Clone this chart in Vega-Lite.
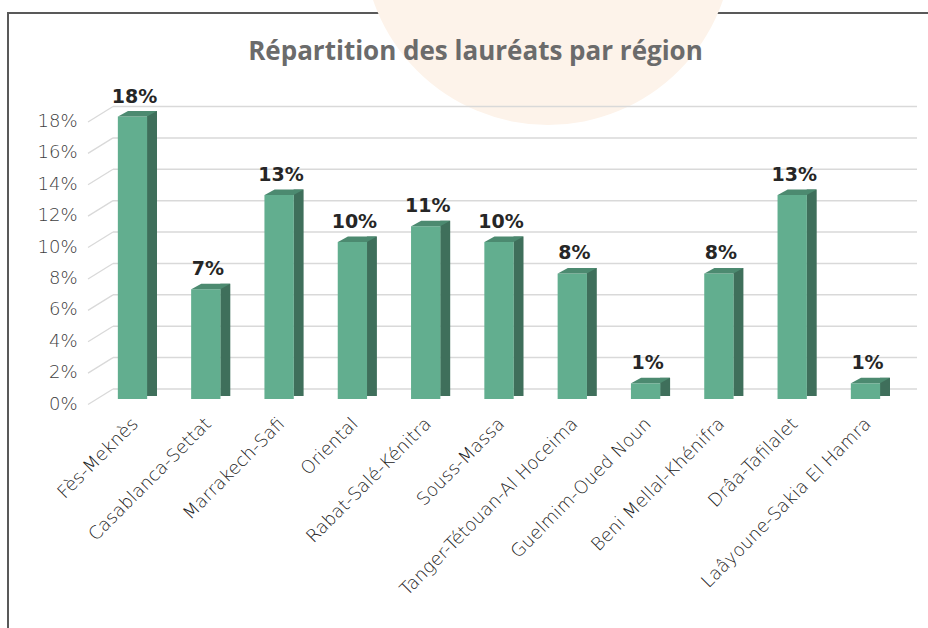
{
  "$schema": "https://vega.github.io/schema/vega-lite/v6.json",
  "autosize": {"type": "none"},
  "padding": {"left": 8, "top": 13, "right": -5, "bottom": -5},
  "width": 925,
  "height": 620,
  "background": "white",
  "config": {
    "view": {"stroke": "#595959", "strokeWidth": 2},
    "axisX": {"domain": false, "ticks": false, "grid": false, "offset": -228, "labelAngle": -45, "labelAlign": "right", "labelBaseline": "middle", "labelPadding": 16, "labelOffset": 3, "labelFont": "DejaVu Sans", "labelFontWeight": 200, "labelFontSize": 18, "labelColor": "#222222", "labelLimit": 400},
    "axisY": {"domain": false, "ticks": false, "grid": false, "offset": -75, "labelPadding": 6, "labelOffset": 5, "labelFont": "DejaVu Sans", "labelFontWeight": 200, "labelFontSize": 18, "labelColor": "#404040", "format": ".0%"}
  },
  "title": {
    "text": "Répartition des lauréats par région",
    "font": "Open Sans",
    "fontWeight": "bold",
    "fontSize": 26,
    "color": "#6b6b6b",
    "anchor": "middle",
    "baseline": "alphabetic",
    "offset": 0,
    "dy": 331,
    "dx": 5
  },
  "datasets": {
    "regions": [
      {"region": "Fès-Meknès", "pct": 0.18},
      {"region": "Casablanca-Settat", "pct": 0.07},
      {"region": "Marrakech-Safi", "pct": 0.13},
      {"region": "Oriental", "pct": 0.10},
      {"region": "Rabat-Salé-Kénitra", "pct": 0.11},
      {"region": "Souss-Massa", "pct": 0.10},
      {"region": "Tanger-Tétouan-Al Hoceima", "pct": 0.08},
      {"region": "Guelmim-Oued Noun", "pct": 0.01},
      {"region": "Beni Mellal-Khénifra", "pct": 0.08},
      {"region": "Drâa-Tafilalet", "pct": 0.13},
      {"region": "Laâyoune-Sakia El Hamra", "pct": 0.01}
    ],
    "grid": [
      {"v": 0}, {"v": 0.02}, {"v": 0.04}, {"v": 0.06}, {"v": 0.08},
      {"v": 0.10}, {"v": 0.12}, {"v": 0.14}, {"v": 0.16}, {"v": 0.18}
    ]
  },
  "layer": [
    {
      "data": {"values": [{"k": "blob"}]},
      "mark": {"type": "point", "shape": "circle", "filled": true, "size": 136900, "color": "#fdf3ea", "opacity": 1, "strokeWidth": 0, "xOffset": 49},
      "encoding": {
        "x": {"datum": "Souss-Massa", "type": "nominal", "title": null, "scale": {"domain": ["Fès-Meknès","Casablanca-Settat","Marrakech-Safi","Oriental","Rabat-Salé-Kénitra","Souss-Massa","Tanger-Tétouan-Al Hoceima","Guelmim-Oued Noun","Beni Mellal-Khénifra","Drâa-Tafilalet","Laâyoune-Sakia El Hamra"], "range": [87.85, 894.15], "paddingInner": 0.6, "paddingOuter": 0.3}},
        "y": {"datum": 0.2925, "type": "quantitative", "title": null, "scale": {"domain": [0, 0.18], "range": [386, 103.5], "nice": false, "zero": true}}
      }
    },
    {
      "data": {"name": "grid"},
      "mark": {"type": "rule", "color": "#d9d9d9", "strokeWidth": 1.5, "yOffset": -10},
      "encoding": {
        "y": {"field": "v", "type": "quantitative", "title": null},
        "x": {"value": 105},
        "x2": {"value": 909}
      }
    },
    {
      "data": {"name": "grid"},
      "mark": {"type": "rule", "color": "#d9d9d9", "strokeWidth": 1.3, "yOffset": 5.5, "y2Offset": -10},
      "encoding": {
        "y": {"field": "v", "type": "quantitative", "title": null},
        "y2": {"field": "v"},
        "x": {"value": 80},
        "x2": {"value": 105}
      }
    },
    {
      "data": {"name": "regions"},
      "mark": {"type": "bar", "color": "#3f6f5b", "size": 10, "xOffset": 19.5, "yOffset": -5.5, "y2Offset": -3},
      "encoding": {
        "x": {"field": "region", "type": "nominal", "sort": null, "title": null},
        "y": {"field": "pct", "type": "quantitative", "title": null},
        "y2": {"datum": 0}
      }
    },
    {
      "data": {"name": "regions"},
      "mark": {"type": "bar", "color": "#62ae8f"},
      "encoding": {
        "x": {"field": "region", "type": "nominal", "sort": null, "title": null},
        "y": {"field": "pct", "type": "quantitative", "title": null}
      }
    },
    {
      "data": {"name": "regions"},
      "mark": {"type": "point", "filled": true, "opacity": 1, "strokeWidth": 0, "size": 1600, "color": "#4c8a70", "shape": "M -0.725 0 L 0.725 0 L 1.225 -0.275 L -0.225 -0.275 Z"},
      "encoding": {
        "x": {"field": "region", "type": "nominal", "sort": null, "title": null},
        "y": {"field": "pct", "type": "quantitative", "title": null}
      }
    },
    {
      "data": {"name": "regions"},
      "mark": {"type": "text", "font": "DejaVu Sans", "fontWeight": "bold", "fontSize": 19, "color": "#262626", "baseline": "alphabetic", "dy": -14, "dx": 2},
      "encoding": {
        "x": {"field": "region", "type": "nominal", "sort": null, "title": null},
        "y": {"field": "pct", "type": "quantitative", "title": null},
        "text": {"field": "pct", "type": "quantitative", "format": ".0%"}
      }
    }
  ]
}
